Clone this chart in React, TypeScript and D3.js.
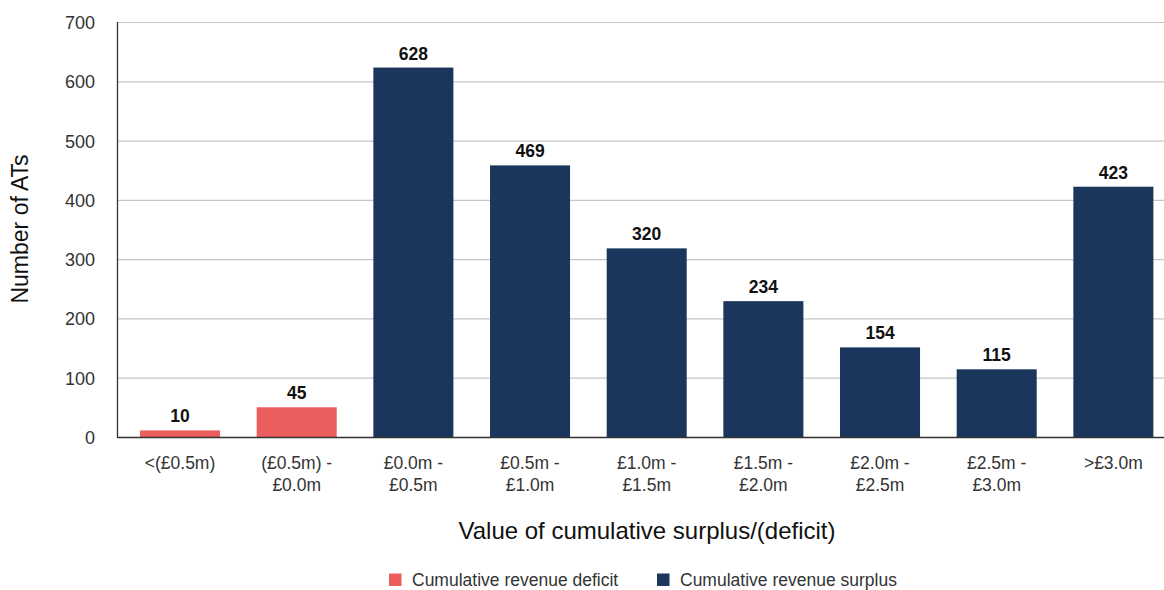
import React from "react";
import * as d3 from "d3";

const categories: string[][] = [
  ["<(£0.5m)"],
  ["(£0.5m) -", "£0.0m"],
  ["£0.0m -", "£0.5m"],
  ["£0.5m -", "£1.0m"],
  ["£1.0m -", "£1.5m"],
  ["£1.5m -", "£2.0m"],
  ["£2.0m -", "£2.5m"],
  ["£2.5m -", "£3.0m"],
  [">£3.0m"],
];
const barValues = [12, 51, 624, 459, 319, 230, 152, 115, 423];
const labelValues = [10, 45, 628, 469, 320, 234, 154, 115, 423];
const seriesOf = ["deficit", "deficit", "surplus", "surplus", "surplus", "surplus", "surplus", "surplus", "surplus"];
const yTicks = [0, 100, 200, 300, 400, 500, 600, 700];
const legendItems = [
  { key: "deficit", label: "Cumulative revenue deficit" },
  { key: "surplus", label: "Cumulative revenue surplus" },
];
const colors: Record<string, string> = { deficit: "#EB5E5E", surplus: "#1B365D" };

const W = 1164;
const H = 590;
const FONT = "'Liberation Sans', Arial, Helvetica, sans-serif";

export default function App() {
  const keys = categories.map((c) => c.join(" "));
  const x = d3
    .scaleBand<string>()
    .domain(keys)
    .range([121.7, 1171.7])
    .paddingInner(0.314)
    .paddingOuter(0.157);
  const y = d3.scaleLinear().domain([0, 700]).range([437.5, 22.5]);
  const axisX = 117.5;

  return (
    <svg
      width={W}
      height={H}
      style={{ position: "absolute", left: 0, top: 0, background: "#fff" }}
      fontFamily={FONT}
    >
      {yTicks.map((t) => (
        <g key={t}>
          {t > 0 && (
            <line x1={axisX} x2={W} y1={y(t)} y2={y(t)} stroke="#c6c6c6" strokeWidth={1.2} />
          )}
          <text x={95} y={y(t)} dy="0.36em" textAnchor="end" fontSize={18} fill="#333">
            {t}
          </text>
        </g>
      ))}
      {barValues.map((v, i) => (
        <rect
          key={i}
          x={x(keys[i])}
          y={y(v)}
          width={x.bandwidth()}
          height={y(0) - y(v)}
          fill={colors[seriesOf[i]]}
        />
      ))}
      {labelValues.map((v, i) => (
        <text
          key={i}
          x={(x(keys[i]) as number) + x.bandwidth() / 2}
          y={y(barValues[i]) - 8}
          textAnchor="middle"
          fontSize={17.5}
          fontWeight="bold"
          fill="#111"
        >
          {v}
        </text>
      ))}
      <line x1={axisX} x2={axisX} y1={22} y2={438} stroke="#333" strokeWidth={1.3} />
      <line x1={axisX} x2={W} y1={437.5} y2={437.5} stroke="#333" strokeWidth={1.3} />
      {categories.map((lines, i) => (
        <text
          key={i}
          x={(x(keys[i]) as number) + x.bandwidth() / 2}
          y={469}
          textAnchor="middle"
          fontSize={17.5}
          fill="#333"
        >
          {lines.map((l, j) => (
            <tspan key={j} x={(x(keys[i]) as number) + x.bandwidth() / 2} dy={j === 0 ? 0 : 22}>
              {l}
            </tspan>
          ))}
        </text>
      ))}
      <text
        transform={`translate(28,229) rotate(-90)`}
        textAnchor="middle"
        fontSize={23}
        fill="#111"
      >
        Number of ATs
      </text>
      <text x={647} y={539} textAnchor="middle" fontSize={24} fill="#111">
        Value of cumulative surplus/(deficit)
      </text>
      {legendItems.map((it, i) => {
        const lx = i === 0 ? 389 : 657;
        return (
          <g key={it.key}>
            <rect x={lx} y={573.5} width={12.5} height={12.5} fill={colors[it.key]} />
            <text x={lx + 23} y={586} fontSize={17.5} fill="#333">
              {it.label}
            </text>
          </g>
        );
      })}
    </svg>
  );
}
